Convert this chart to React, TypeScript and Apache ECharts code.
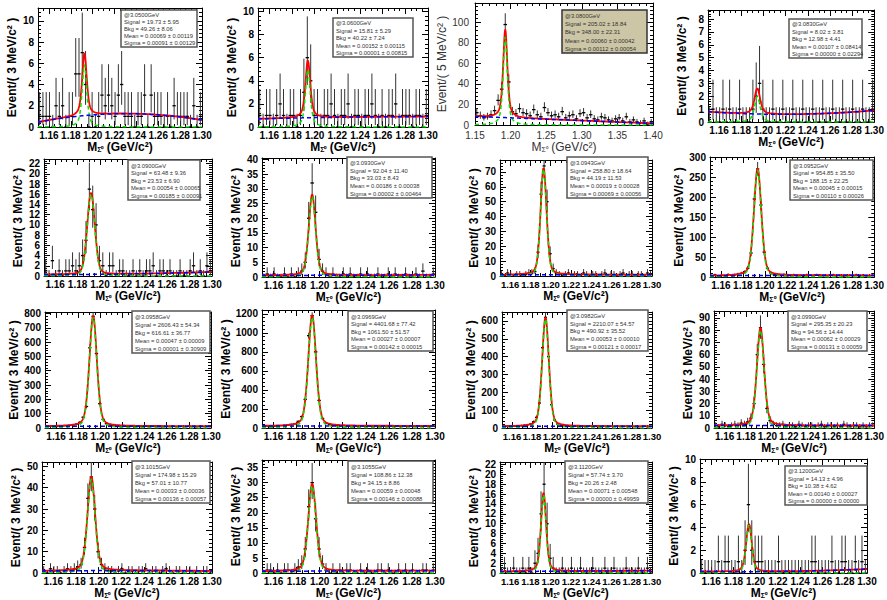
import React, { useEffect, useRef } from "react";
import * as echarts from "echarts";

// ---------------- data ----------------
const energies = ["3.0500", "3.0600", "3.0800", "3.0830", "3.0900", "3.0930", "3.0943", "3.0952",
  "3.0958", "3.0969", "3.0982", "3.0990", "3.1015", "3.1055", "3.1120", "3.1200"];
const signalTxt = ["19.73 ± 5.95", "15.81 ± 5.29", "205.02 ± 18.84", "8.02 ± 3.81", "63.48 ± 9.36", "92.04 ± 11.40",
  "258.80 ± 18.64", "954.85 ± 35.50", "2606.43 ± 54.34", "4401.68 ± 77.42", "2210.07 ± 54.57", "295.35 ± 20.23",
  "174.98 ± 15.29", "108.86 ± 12.38", "57.74 ± 3.70", "14.13 ± 4.96"];
const bkgTxt = ["49.26 ± 8.06", "40.22 ± 7.24", "348.00 ± 22.31", "12.98 ± 4.41", "23.53 ± 6.90", "33.03 ± 8.43",
  "44.19 ± 11.53", "188.15 ± 22.25", "616.61 ± 36.77", "1061.50 ± 51.57", "490.92 ± 35.52", "94.56 ± 14.44",
  "57.01 ± 10.77", "34.15 ± 8.86", "20.26 ± 2.48", "10.38 ± 4.62"];
const meanTxt = ["0.00069 ± 0.00119", "0.00152 ± 0.00115", "0.00060 ± 0.00042", "0.00107 ± 0.08414", "0.00054 ± 0.00065",
  "0.00186 ± 0.00038", "0.00019 ± 0.00028", "0.00045 ± 0.00015", "0.00047 ± 0.00009", "0.00027 ± 0.00007",
  "0.00053 ± 0.00010", "0.00062 ± 0.00029", "0.00033 ± 0.00036", "0.00059 ± 0.00048", "0.00071 ± 0.00548",
  "0.00140 ± 0.00027"];
const sigmaTxt = ["0.00091 ± 0.00129", "0.00001 ± 0.00815", "0.00112 ± 0.00054", "0.00000 ± 0.02294", "0.00185 ± 0.00091",
  "0.00002 ± 0.00464", "0.00069 ± 0.00056", "0.00110 ± 0.00026", "0.00001 ± 0.30909", "0.00142 ± 0.00015",
  "0.00121 ± 0.00017", "0.00131 ± 0.00059", "0.00136 ± 0.00057", "0.00146 ± 0.00088", "0.00000 ± 0.49959",
  "0.00000 ± 0.00000"];

// bin contents (50 bins each)
const counts3050 = [1,1,1,1,0,2,1,2,0,1, 1,5,5,7,4,0,1,0,1,3, 2,3,2,1,3,4,1,1,1,0, 1,1,3,0,3,1,1,1,0,1, 0,2,1,1,1,1,0,2,0,1];
const counts3060 = [1,0,1,1,0,1,2,1,0,1, 1,0,1,3,6,4,1,1,0,1, 1,2,1,0,1,1,2,0,1,1, 0,1,1,2,1,0,1,0,1,1, 2,0,1,1,1,0,1,1,0,1];
const counts3080 = [12,9,7,8,10,14,24,35,98,42, 13,11,16,12,11,9,15,10,8,17, 12,9,10,8,13,7,9,10,6,11, 12,7,10,6,5,8,7,5,4,6, 7,4,8,3,5,3,2,4,1,3];
const counts3083 = [0,1,0,0,1,0,1,0,0,1, 0,0,0,1,2,3,1,0,0,1, 0,0,1,0,0,1,0,0,1,0, 0,1,0,0,1,0,0,1,0,0, 1,0,0,1,0,0,1,0,0,1];
const counts3090 = [1,0,3,0,1,0,1,1,2,1, 2,4,7,17,13,10,3,2,0,2, 2,0,1,1,0,0,1,0,1,0, 1,1,2,0,1,1,0,1,0,0, 1,0,0,1,2,0,1,0,2,1];
const counts3093 = [0,1,0,1,0,0,1,0,1,0, 1,2,5,20,32,22,6,2,1,0, 1,0,0,1,0,1,0,0,1,0, 1,0,0,1,0,0,1,0,1,0, 0,1,0,0,1,0,2,0,0,1];
const counts30943 = [1,0,2,1,0,1,1,0,1,2, 2,3,16,55,74,50,15,5,2,1, 0,1,2,0,1,1,0,2,1,0, 1,1,0,1,2,0,1,1,0,1, 2,0,1,1,0,1,1,0,2,1];
const counts30952 = [3,5,2,4,3,6,4,5,7,9, 12,22,60,195,270,180,62,22,10,6, 5,4,6,3,4,5,3,4,2,5, 4,3,5,4,3,2,4,5,3,4, 2,3,4,3,5,2,4,3,3,4];
const counts30958 = [10,12,14,11,13,15,16,18,22,28, 40,75,150,560,780,520,170,60,30,20, 16,14,12,13,11,14,12,10,13,11, 12,10,11,13,9,12,10,11,12,9, 10,11,9,12,10,8,11,10,9,10];
const counts30969 = [18,20,22,19,24,25,28,30,38,45, 70,120,300,970,1180,800,290,100,50,35, 28,25,22,24,20,22,21,19,23,20, 22,19,21,20,18,22,20,19,21,18, 20,19,17,20,18,19,17,18,16,18];
const counts30982 = [9,10,8,11,10,12,13,15,18,22, 35,60,140,450,620,400,130,45,22,15, 12,11,10,9,11,10,9,10,8,11, 9,10,8,9,10,8,9,8,10,9, 8,9,7,9,8,7,8,9,7,8];
const counts30990 = [2,1,3,2,1,2,3,2,4,3, 5,8,20,60,82,52,16,6,3,2, 2,3,1,2,2,1,3,2,1,2, 2,1,2,3,1,2,2,1,2,1, 3,2,1,2,2,1,2,1,2,2];
const counts31015 = [1,0,2,1,1,0,1,2,1,2, 3,4,12,35,45,30,10,4,2,1, 1,0,1,2,0,1,1,0,1,1, 2,0,1,1,0,1,2,1,0,1, 1,0,1,1,0,1,0,1,1,0];
const counts31055 = [0,1,1,0,1,0,1,1,0,1, 2,3,8,22,30,18,8,3,1,0, 1,0,1,0,1,1,0,0,1,0, 1,0,0,1,1,0,1,0,0,1, 0,1,0,1,0,0,1,1,0,1];
const counts31120 = [0,1,0,0,1,0,0,1,0,1, 0,2,4,12,18,10,3,1,0,0, 1,0,0,1,0,0,1,0,0,0, 1,0,0,0,1,0,0,1,0,0, 0,1,0,0,0,1,0,0,1,0];
const counts31200 = [0,0,0,0,0,1,0,1,1,0, 0,1,0,2,6,2,1,1,1,0, 0,0,0,1,0,0,0,0,0,0, 0,0,0,1,1,0,0,0,0,1, 0,0,1,1,0,0,1,0,1,0];

const binWidth = [0.003, 0.003, 0.005, 0.003, 0.003, 0.003, 0.003, 0.003, 0.003, 0.003, 0.003, 0.003, 0.003, 0.003, 0.003, 0.003];
const xMin = 1.15;
const xMaxList = [1.30, 1.30, 1.40, 1.30, 1.30, 1.30, 1.30, 1.30, 1.30, 1.30, 1.30, 1.30, 1.30, 1.30, 1.30, 1.30];
const yMaxList = [11.2, 10.3, 119, 8.7, 22.9, 40.5, 78, 300, 810, 1240, 650, 95.7, 52, 37.5, 22.5, 10];
const yStepList = [2, 2, 20, 1, 2, 5, 10, 50, 100, 200, 100, 10, 10, 5, 2, 2];

// fit-curve parameters
const fitMean = [1.1925, 1.194, 1.1925, 1.1945, 1.192, 1.1935, 1.193, 1.1935, 1.1935, 1.1935, 1.1935, 1.1935, 1.1935, 1.1935, 1.193, 1.194];
const fitPeak = [5.9, 5.0, 86, 2.0, 16, 27.5, 72, 268, 770, 1165, 610, 80, 44, 29, 16, 4.2];
const fitHwhm = [0.0025, 0.0025, 0.0035, 0.003, 0.004, 0.0035, 0.0035, 0.004, 0.004, 0.004, 0.004, 0.004, 0.004, 0.004, 0.003, 0.003];
const fitLorentz = [0.6, 0.6, 0.6, 0.6, 0.2, 0.3, 0.3, 0.3, 0.3, 0.3, 0.3, 0.3, 0.3, 0.3, 0.4, 0.4];
const bkgLeft = [0.45, 0.7, 8.3, 0.8, 0.3, 0.5, 0.8, 3, 12, 20, 9, 2, 1, 0.6, 0.3, 0.15];
const bkgMid = [1.25, 0.85, 5, 0.6, 0.4, 0.6, 0.9, 4, 13, 22, 10, 2, 1.2, 0.7, 0.4, 0.15];
const bkgRight = [0.65, 0.9, 1.5, 0.9, 0.8, 0.7, 0.9, 4, 12, 22, 10, 2, 1, 0.8, 0.5, 0.35];

const allCounts = [counts3050, counts3060, counts3080, counts3083, counts3090, counts3093, counts30943, counts30952,
  counts30958, counts30969, counts30982, counts30990, counts31015, counts31055, counts31120, counts31200];

// ---------------- layout ----------------
const FRAMES = [
  [38, 8, 202, 127], [258, 8, 428, 127], [475, 3, 653, 125], [708, 10, 878, 122],
  [44, 159, 212, 276], [262, 158, 435, 277], [500, 160, 652, 276], [710, 157, 878, 277],
  [45, 312, 211, 428], [262, 310, 435, 428], [502, 312, 652, 428], [714, 311, 878, 428],
  [42, 462, 212, 578], [262, 460, 435, 578], [500, 462, 652, 578], [700, 459, 867, 578],
];
const BOXES = [
  [121, 10, 197, 47], [333, 18, 413, 57], [562, 10, 647, 53], [789, 19, 862, 58],
  [128, 160, 200, 200], [347, 157, 432, 198], [567, 157, 648, 198], [790, 160, 873, 200],
  [132, 311, 210, 353], [348, 311, 433, 351], [567, 310, 648, 351], [788, 311, 867, 351],
  [132, 461, 210, 503], [348, 461, 433, 503], [565, 461, 648, 503], [785, 466, 867, 505],
];

const FONT = "'Liberation Sans Narrow', 'Liberation Sans', Arial, sans-serif";

function poisson(n: number): [number, number] {
  if (n === 0) return [0, 1.148];
  const lo = n * Math.pow(1 - 1 / (9 * n) - 1 / (3 * Math.sqrt(n)), 3);
  const m = n + 1;
  const hi = m * Math.pow(1 - 1 / (9 * m) + 1 / (3 * Math.sqrt(m)), 3);
  return [lo, hi];
}

function signalAt(i: number, x: number) {
  const u = (x - fitMean[i]) / fitHwhm[i];
  const eta = fitLorentz[i];
  return fitPeak[i] * (eta / (1 + u * u) + (1 - eta) * Math.exp(-Math.LN2 * u * u));
}
function bkgAt(i: number, x: number) {
  const x0 = xMin, x2 = xMaxList[i], x1 = (x0 + x2) / 2;
  const y0 = bkgLeft[i], y1 = bkgMid[i], y2 = bkgRight[i];
  return y0 * ((x - x1) * (x - x2)) / ((x0 - x1) * (x0 - x2)) +
    y1 * ((x - x0) * (x - x2)) / ((x1 - x0) * (x1 - x2)) +
    y2 * ((x - x0) * (x - x1)) / ((x2 - x0) * (x2 - x1));
}

function buildOption() {
  const grid: any[] = [], xAxis: any[] = [], yAxis: any[] = [], series: any[] = [], graphic: any[] = [];
  for (let i = 0; i < 16; i++) {
    const [L, T, R, B] = FRAMES[i];
    const special = i === 2;
    const bold = special ? "normal" : "bold";
    const labelColor = special ? "#333" : "#000";
    const narrow = R - L < 160;
    grid.push({ left: L, top: T, width: R - L, height: B - T });
    const xMax = xMaxList[i];
    const xCommon: any = {
      gridIndex: i, type: "value", min: xMin, max: xMax,
      axisLine: { show: true, onZero: false, lineStyle: { color: "#000", width: 1 } },
      axisTick: { show: true, inside: true, length: 6, lineStyle: { color: "#000" } },
      minorTick: { show: true, splitNumber: special ? 5 : 4, length: 3, lineStyle: { color: "#000" } },
      splitLine: { show: false },
    };
    if (special) xCommon.interval = 0.05; else xCommon.splitNumber = 7;
    xAxis.push({
      ...xCommon, position: "bottom",
      axisLabel: {
        show: true, interval: 0, formatter: (v: number) => v.toFixed(2), showMinLabel: special, fontFamily: FONT,
        fontSize: narrow ? 9.5 : 10, fontWeight: bold, color: labelColor, margin: special ? 5 : 3,
      },
      name: "M{s|Σ⁰} (GeV/c²)", nameLocation: "middle", nameGap: 13,
      nameTextStyle: {
        fontFamily: FONT, fontSize: 12, fontWeight: bold, color: labelColor,
        rich: { s: { fontSize: 7, fontFamily: FONT, fontWeight: bold, color: labelColor, verticalAlign: "bottom", padding: [5, 0, 0, 0] } },
      },
    });
    xAxis.push({ ...xCommon, position: "top", axisLabel: { show: false } });
    const yMax = yMaxList[i], yStep = yStepList[i];
    const yCommon: any = {
      gridIndex: i, type: "value", min: 0, max: yMax, interval: yStep,
      axisLine: { show: true, onZero: false, lineStyle: { color: "#000", width: 1 } },
      axisTick: { show: true, inside: true, length: 6, lineStyle: { color: "#000" } },
      minorTick: { show: true, splitNumber: 5, length: 3, lineStyle: { color: "#000" } },
      splitLine: { show: false },
    };
    const maxOnTick = Math.abs(yMax / yStep - Math.round(yMax / yStep)) < 1e-6;
    yAxis.push({
      ...yCommon, position: "left",
      axisLabel: {
        show: true, showMaxLabel: maxOnTick, formatter: (v: number) => String(Math.round(v)),
        fontFamily: FONT, fontSize: 10, fontWeight: bold, color: labelColor, margin: special ? 6 : 4,
      },
      name: special ? "Event/( 5 MeV/c² )" : "Event/( 3 MeV/c² )", nameLocation: "middle", nameGap: special ? 24 : 20,
      nameTextStyle: { fontFamily: FONT, fontSize: 12, fontWeight: bold, color: labelColor },
    });
    yAxis.push({ ...yCommon, position: "right", axisLabel: { show: false } });

    const xi = 2 * i, yi = 2 * i;
    const bw = binWidth[i];
    const pts = allCounts[i].map((n, k) => {
      const [lo, hi] = poisson(n);
      return [xMin + bw * (k + 0.5), n, lo, hi, bw / 2];
    });
    series.push({
      type: "custom", xAxisIndex: xi, yAxisIndex: yi, clip: true, data: pts,
      encode: { x: 0, y: 1 },
      renderItem: (params: any, api: any) => {
        const x = api.value(0), y = api.value(1), lo = api.value(2), hi = api.value(3), hw = api.value(4);
        const a = api.coord([x, lo]), b = api.coord([x, hi]);
        const l = api.coord([x - hw, y]), r = api.coord([x + hw, y]);
        return {
          type: "group", children: [
            { type: "line", shape: { x1: a[0], y1: a[1], x2: b[0], y2: b[1] }, style: { stroke: "#333", lineWidth: 1 } },
            { type: "line", shape: { x1: l[0], y1: l[1], x2: r[0], y2: r[1] }, style: { stroke: "#000", lineWidth: 1.3 } },
          ],
        };
      },
      z: 2,
    });
    const nS = 400;
    const tot: number[][] = [], sig: number[][] = [], bkg: number[][] = [];
    for (let k = 0; k <= nS; k++) {
      const x = xMin + (xMax - xMin) * k / nS;
      const s = signalAt(i, x), b = bkgAt(i, x);
      tot.push([x, s + b]); sig.push([x, s]); bkg.push([x, b]);
    }
    series.push({ type: "line", xAxisIndex: xi, yAxisIndex: yi, data: tot, showSymbol: false, symbol: "none", lineStyle: { color: "#ff0000", width: 1.8 }, z: 3, silent: true });
    series.push({ type: "line", xAxisIndex: xi, yAxisIndex: yi, data: sig, showSymbol: false, symbol: "none", lineStyle: { color: "#00e600", width: 1.5, type: [4, 3] }, z: 4, silent: true });
    series.push({ type: "line", xAxisIndex: xi, yAxisIndex: yi, data: bkg, showSymbol: false, symbol: "none", lineStyle: { color: "#0000ff", width: 1.5, type: [4, 3] }, z: 5, silent: true });

    const [bx1, by1, bx2, by2] = BOXES[i];
    const h = by2 - by1;
    const lines = ["@" + energies[i] + "GeV", "Signal = " + signalTxt[i], "Bkg = " + bkgTxt[i], "Mean = " + meanTxt[i], "Sigma = " + sigmaTxt[i]];
    graphic.push({
      type: "rect", shape: { x: bx1, y: by1, width: bx2 - bx1, height: h },
      style: { fill: special ? "#cdc6a6" : "#fff", stroke: special ? "#333" : "#555", lineWidth: 1.5 }, z: 10,
    });
    lines.forEach((t, k) => {
      graphic.push({
        type: "text", x: bx1 + 3, y: by1 + h * (0.14 + k * 0.19),
        style: { text: t, fontFamily: FONT, fontSize: 5.8, fill: "#333", verticalAlign: "middle", align: "left" }, z: 11,
      });
    });
  }
  return { animation: false, backgroundColor: "#fff", grid, xAxis, yAxis, series, graphic };
}

export default function App() {
  const ref = useRef<HTMLDivElement>(null);
  useEffect(() => {
    const chart = echarts.init(ref.current!, null, { renderer: "svg" });
    chart.setOption(buildOption() as any);
    return () => chart.dispose();
  }, []);
  return <div ref={ref} style={{ width: 887, height: 600, position: "absolute", left: 0, top: 0 }} />;
}
